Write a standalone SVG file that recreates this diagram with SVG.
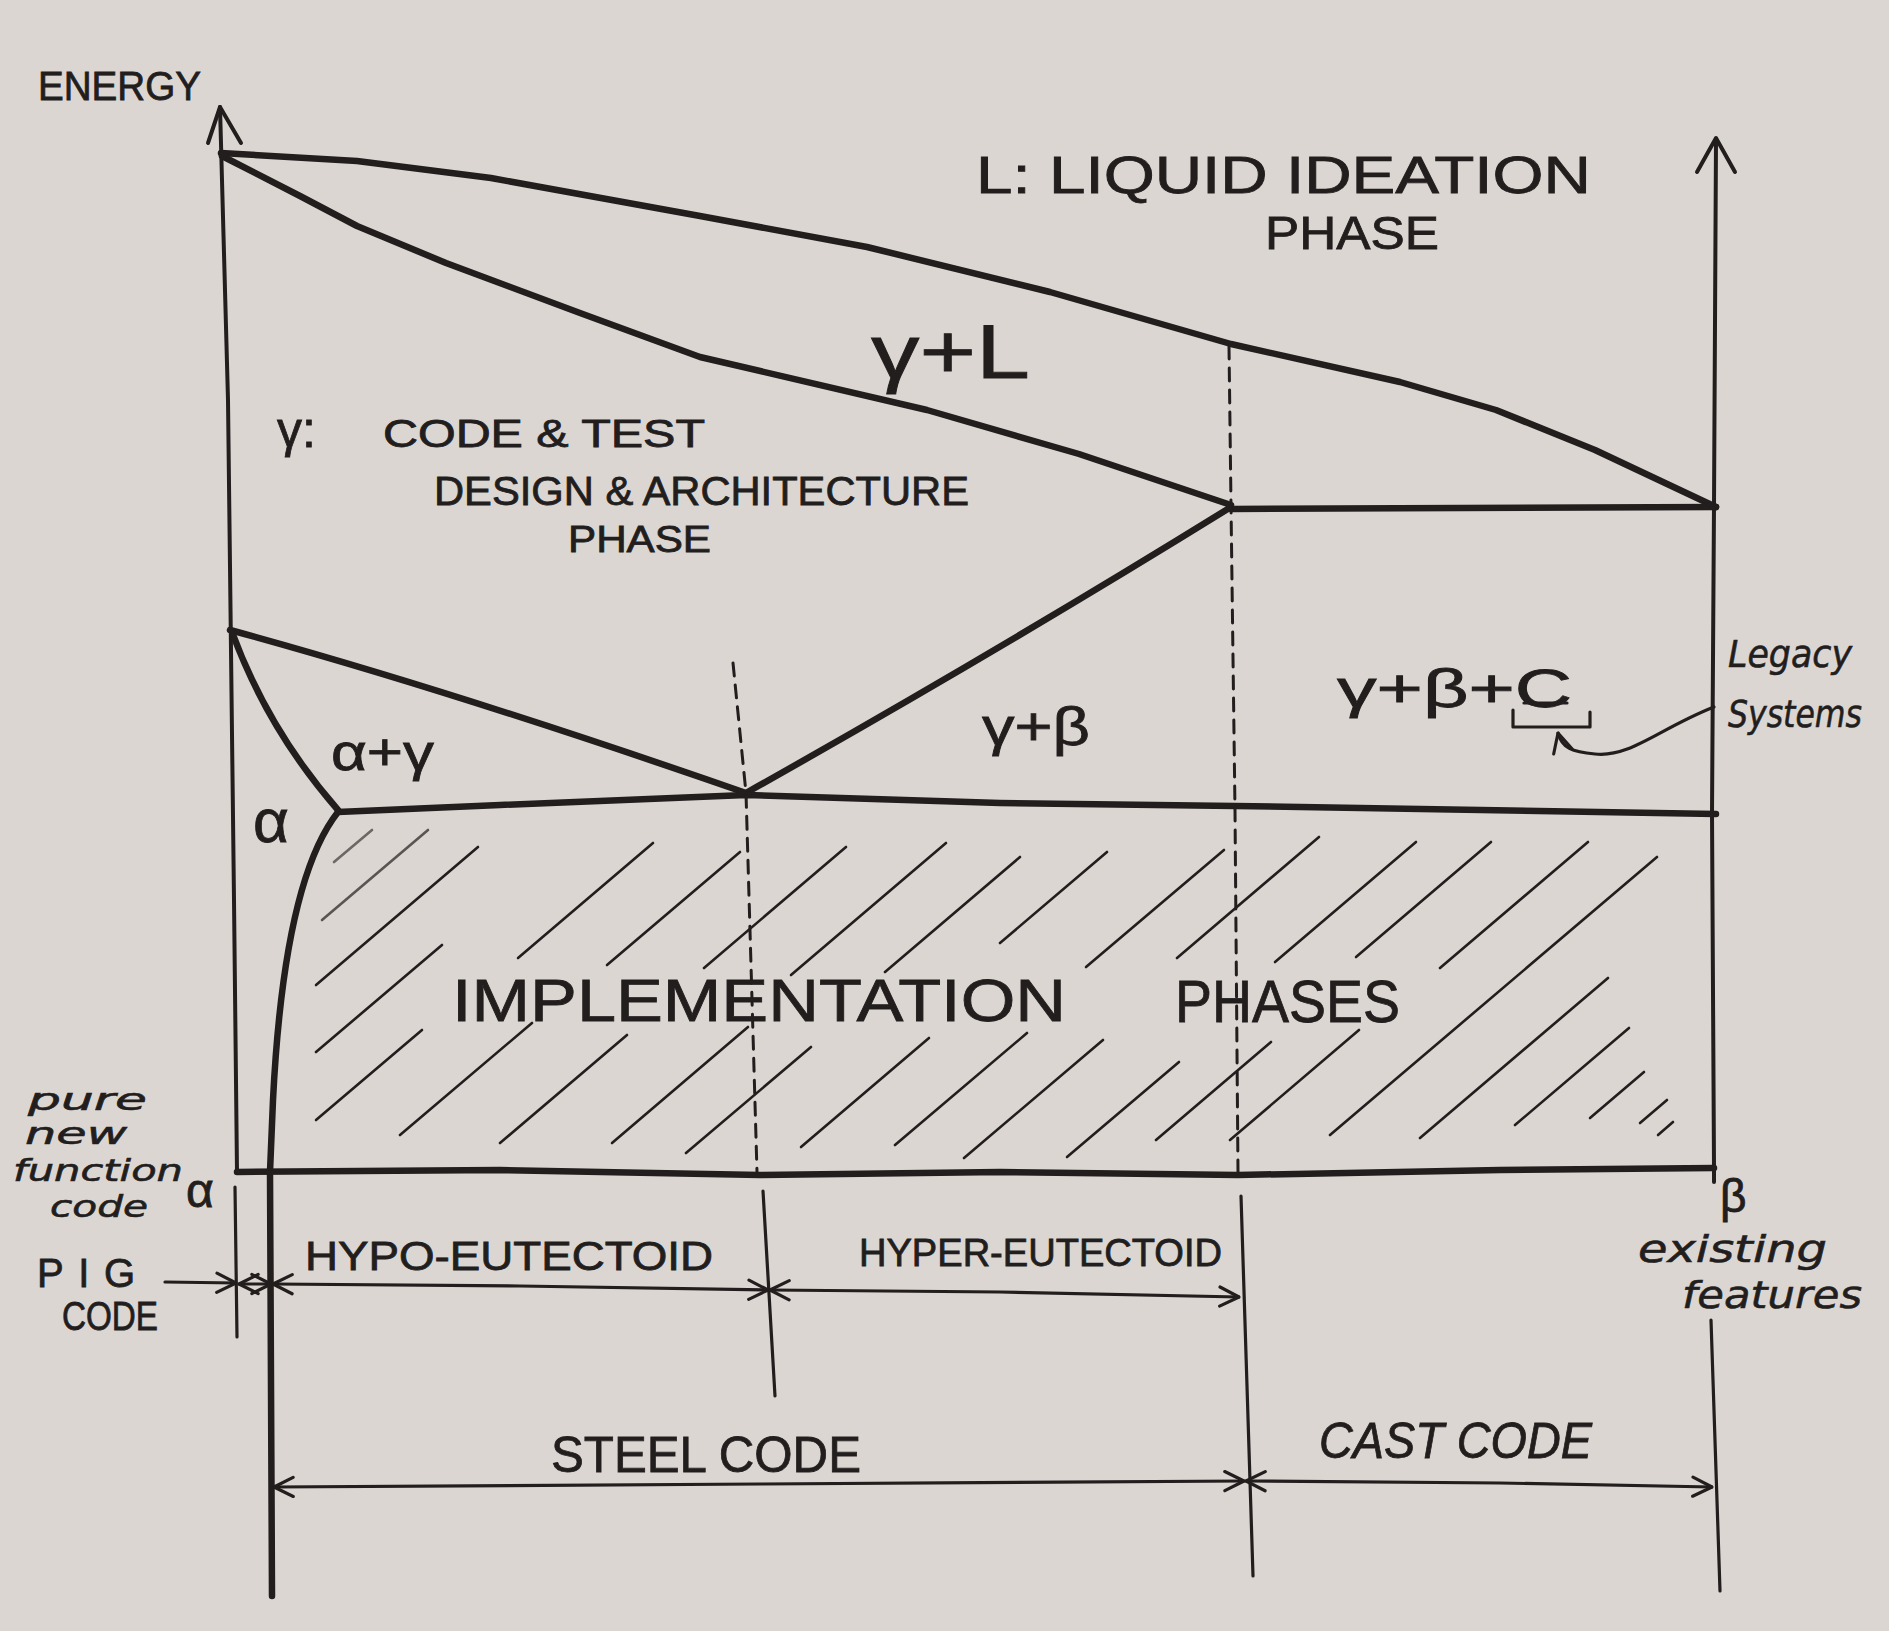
<svg xmlns="http://www.w3.org/2000/svg" width="1889" height="1631" viewBox="0 0 1889 1631">
<defs>
<style>
.ink{fill:none;stroke:#221e1e;stroke-linecap:round;stroke-linejoin:round}
.main{stroke-width:6.5}
.axis{stroke-width:4}
.thin{stroke-width:3.2}
.hatch{stroke-width:2.6}
.dash{stroke-width:3;stroke-dasharray:13 9}
.t{font-family:"Liberation Sans","DejaVu Sans",sans-serif;fill:#221e1e;stroke:#221e1e;stroke-width:0.8}
.s{font-family:"DejaVu Sans","Liberation Sans",sans-serif;font-style:italic;fill:#221e1e;stroke:#221e1e;stroke-width:0.6}
</style>
<marker id="ah" viewBox="0 0 20 20" refX="19" refY="10" markerWidth="24" markerHeight="24" markerUnits="userSpaceOnUse" orient="auto-start-reverse">
<path d="M3,2 L19,10 L3,18" fill="none" stroke="#221e1e" stroke-width="2.6" stroke-linecap="round" stroke-linejoin="round"/>
</marker>
</defs>
<rect x="0" y="0" width="1889" height="1631" fill="#dcd6d2"/>

<g id="axes">
<path class="ink axis" d="M220,107 L228,400 L234,900 L237,1172"/>
<path class="ink axis" d="M208,143 L220,107 L241,143"/>
<path class="ink axis" d="M1716,140 L1714,505 L1712,813 L1714,1168 L1714,1182"/>
<path class="ink axis" d="M1697,172 L1716,138 L1735,172"/>
<path class="ink thin" d="M235,1187 L237,1337"/>
<path class="ink thin" d="M1711,1320 L1720,1591"/>
</g>

<g id="phase-boundaries">
<path id="liquidus" class="ink main" d="M221,153 L357,161 L491,178 L700,216 L867,247 L1050,292 L1231,344 L1400,382 L1496,410 L1595,450 L1716,507"/>
<path id="solidus" class="ink main" d="M222,156 L300,196 L357,226 L446,263 L580,313 L700,357 L927,410 L1079,454 L1231,505"/>
<path id="peritectic-line" class="ink main" d="M1231,509 L1716,507"/>
<path id="gamma-beta-line" class="ink main" d="M1231,507 Q1000,650 746,793"/>
<path id="gamma-alpha-line" class="ink main" d="M230,630 Q450,690 746,793"/>
<path id="alpha-line" class="ink main" d="M232,632 Q268,730 338,810"/>
<path id="eutectoid-line" class="ink main" d="M338,812 L500,805 L746,795 L1000,803 L1235,806 L1716,814"/>
<path id="alpha-solvus" class="ink main" d="M338,812 C300,860 280,960 273,1100 L270,1172 L272,1596"/>
<path id="bottom-line" class="ink main" d="M237,1172 L500,1170 L760,1175 L1000,1172 L1238,1175 L1500,1170 L1714,1168"/>
</g>

<g id="composition-markers">
<path class="ink dash" d="M733,663 L746,793 L757,1172"/>
<path class="ink thin" d="M763,1191 L775,1396"/>
<path class="ink dash" d="M1229,346 L1231,505 L1235,810 L1238,1172"/>
<path class="ink thin" d="M1241,1196 L1253,1576"/>
</g>

<g id="implementation-hatch" class="ink hatch">
<path d="M334,862 L372,830" opacity="0.6"/>
<path d="M322,920 L428,830" opacity="0.7"/>
<path d="M316,985 L478,847"/>
<path d="M316,1052 L442,945"/>
<path d="M316,1120 L422,1030"/>
<path d="M518,958 L653,843"/>
<path d="M607,965 L740,852"/>
<path d="M704,968 L846,847"/>
<path d="M791,975 L946,843"/>
<path d="M885,972 L1020,857"/>
<path d="M1000,943 L1107,852"/>
<path d="M1086,967 L1224,850"/>
<path d="M1177,958 L1319,837"/>
<path d="M1275,962 L1416,842"/>
<path d="M1356,957 L1491,842"/>
<path d="M1440,968 L1588,842"/>
<path d="M400,1135 L532,1023"/>
<path d="M500,1143 L627,1035"/>
<path d="M612,1143 L748,1027"/>
<path d="M686,1153 L811,1047"/>
<path d="M801,1147 L929,1038"/>
<path d="M895,1145 L1027,1033"/>
<path d="M964,1158 L1103,1040"/>
<path d="M1067,1157 L1179,1062"/>
<path d="M1156,1140 L1271,1042"/>
<path d="M1230,1140 L1359,1030"/>
<path d="M1330,1135 L1657,857"/>
<path d="M1420,1138 L1608,978"/>
<path d="M1515,1125 L1629,1028"/>
<path d="M1590,1118 L1644,1072"/>
<path d="M1640,1123 L1667,1100"/>
<path d="M1658,1135 L1673,1122"/>
</g>

<g id="connectors">
<path class="ink thin" d="M165,1282 L236,1283" marker-end="url(#ah)"/>
<path class="ink thin" d="M239,1284 L271,1284" marker-start="url(#ah)" marker-end="url(#ah)"/>
<path class="ink thin" d="M273,1284 L520,1286 L768,1290" marker-start="url(#ah)" marker-end="url(#ah)"/>
<path class="ink thin" d="M770,1290 L1000,1292 L1239,1297" marker-start="url(#ah)" marker-end="url(#ah)"/>
<path class="ink thin" d="M274,1487 L760,1484 L1244,1481" marker-start="url(#ah)" marker-end="url(#ah)"/>
<path class="ink thin" d="M1246,1481 L1500,1483 L1712,1487" marker-start="url(#ah)" marker-end="url(#ah)"/>
<path class="ink thin" d="M1714,707 C1660,728 1630,758 1595,754 C1572,752 1562,748 1558,733" marker-end="url(#ah)"/>
</g>

<g id="label-energy"><text class="t" x="38" y="100" font-size="40" textLength="163" lengthAdjust="spacingAndGlyphs">ENERGY</text></g>

<g id="label-liquid">
<text class="t" x="976" y="193" font-size="52" textLength="615" lengthAdjust="spacingAndGlyphs">L: LIQUID IDEATION</text>
<text class="t" x="1265" y="249" font-size="46" textLength="174" lengthAdjust="spacingAndGlyphs">PHASE</text>
</g>

<g id="region-gamma-l"><text class="t" x="871" y="378" font-size="76" textLength="159" lengthAdjust="spacingAndGlyphs">γ+L</text></g>

<g id="label-gamma">
<text class="t" x="277" y="447" font-size="50">γ:</text>
<text class="t" x="383" y="447" font-size="38" textLength="322" lengthAdjust="spacingAndGlyphs">CODE &amp; TEST</text>
<text class="t" x="434" y="505" font-size="40" textLength="535" lengthAdjust="spacingAndGlyphs">DESIGN &amp; ARCHITECTURE</text>
<text class="t" x="568" y="552" font-size="36" textLength="143" lengthAdjust="spacingAndGlyphs">PHASE</text>
</g>

<g id="region-alpha-gamma"><text class="t" x="331" y="770" font-size="52" textLength="103" lengthAdjust="spacingAndGlyphs">α+γ</text></g>
<g id="region-alpha"><text class="t" x="253" y="842" font-size="62">α</text></g>
<g id="region-gamma-beta"><text class="t" x="982" y="745" font-size="54" textLength="108" lengthAdjust="spacingAndGlyphs">γ+β</text></g>

<g id="region-gamma-beta-c">
<text class="t" x="1337" y="707" font-size="54" textLength="235" lengthAdjust="spacingAndGlyphs">γ+β+C</text>
<path class="ink thin" d="M1524,703 L1567,703"/>
<path class="ink thin" d="M1513,710 L1513,727 L1590,727 L1590,712"/>
</g>

<g id="label-legacy">
<text class="s" x="1728" y="667" font-size="38" textLength="124" lengthAdjust="spacingAndGlyphs">Legacy</text>
<text class="s" x="1728" y="727" font-size="38" textLength="134" lengthAdjust="spacingAndGlyphs">Systems</text>
</g>

<g id="region-implementation">
<text class="t" x="452" y="1021" font-size="60" textLength="614" lengthAdjust="spacingAndGlyphs">IMPLEMENTATION</text>
<text class="t" x="1175" y="1022" font-size="60" textLength="225" lengthAdjust="spacingAndGlyphs">PHASES</text>
</g>

<g id="label-alpha-end">
<text class="s" x="28" y="1110" font-size="30" textLength="119" lengthAdjust="spacingAndGlyphs">pure</text>
<text class="s" x="25" y="1144" font-size="30" textLength="102" lengthAdjust="spacingAndGlyphs">new</text>
<text class="s" x="13" y="1181" font-size="30" textLength="170" lengthAdjust="spacingAndGlyphs">function</text>
<text class="s" x="50" y="1217" font-size="30" textLength="98" lengthAdjust="spacingAndGlyphs">code</text>
<text class="t" x="186" y="1207" font-size="48">α</text>
</g>

<g id="label-pig">
<text class="t" x="37" y="1287" font-size="40" textLength="98" lengthAdjust="spacing">PIG</text>
<text class="t" x="62" y="1330" font-size="40" textLength="96" lengthAdjust="spacingAndGlyphs">CODE</text>
</g>

<g id="label-hypo"><text class="t" x="305" y="1270" font-size="40" textLength="408" lengthAdjust="spacingAndGlyphs">HYPO-EUTECTOID</text></g>
<g id="label-hyper"><text class="t" x="859" y="1266" font-size="38" textLength="363" lengthAdjust="spacingAndGlyphs">HYPER-EUTECTOID</text></g>
<g id="label-steel"><text class="t" x="551" y="1472" font-size="50" textLength="310" lengthAdjust="spacingAndGlyphs">STEEL CODE</text></g>
<g id="label-cast"><text class="t" x="1319" y="1458" font-size="50" font-style="italic" textLength="273" lengthAdjust="spacingAndGlyphs">CAST CODE</text></g>

<g id="label-beta-end">
<text class="t" x="1720" y="1212" font-size="46">β</text>
<text class="s" x="1638" y="1262" font-size="38" textLength="189" lengthAdjust="spacingAndGlyphs">existing</text>
<text class="s" x="1682" y="1308" font-size="38" textLength="180" lengthAdjust="spacingAndGlyphs">features</text>
</g>
</svg>
